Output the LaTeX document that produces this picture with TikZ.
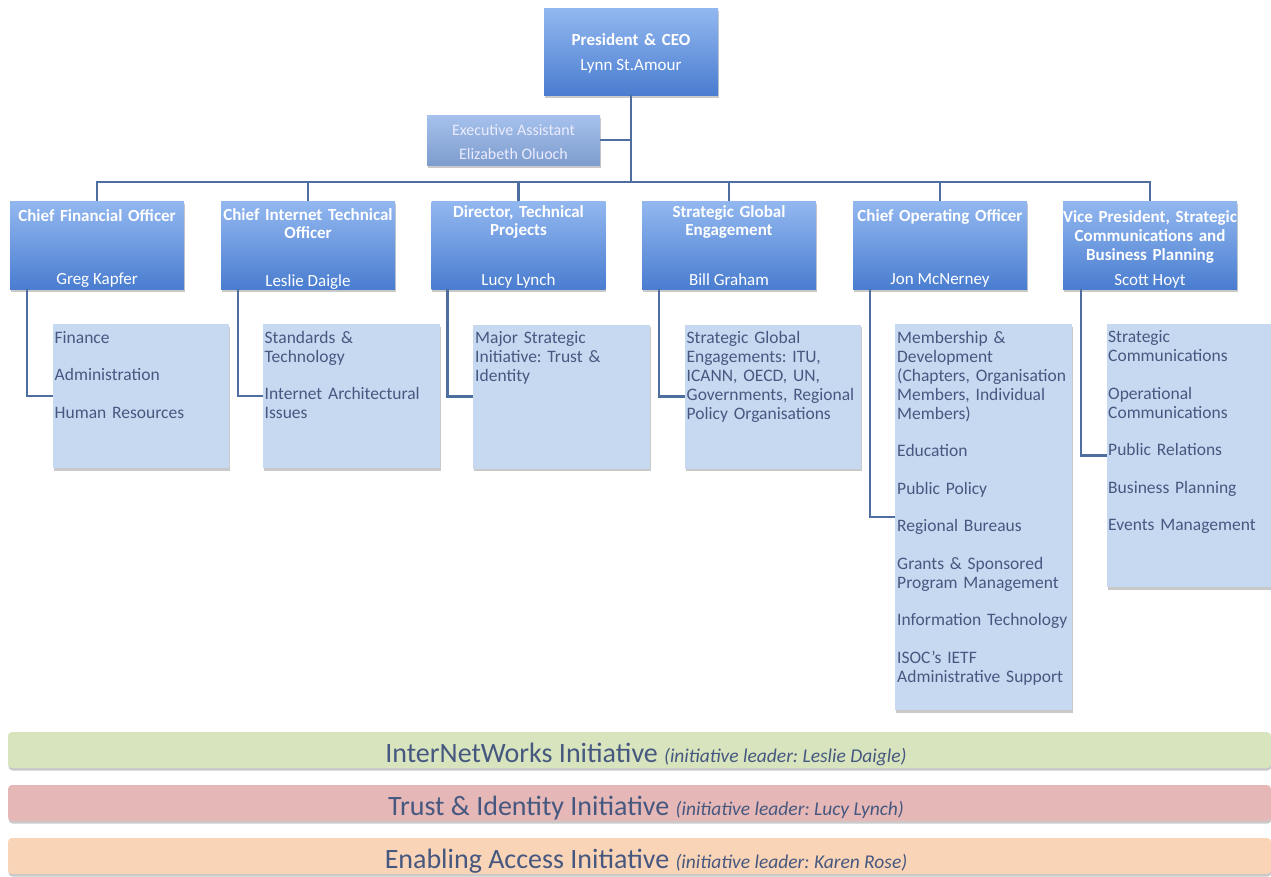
\documentclass[tikz,border=0pt]{standalone}
\usepackage{fontspec}
\setmainfont{Carlito}
\frenchspacing
\usetikzlibrary{shadows}
\definecolor{lineblue}{HTML}{4F6EA0}
\definecolor{offtop}{HTML}{93B8F0}
\definecolor{offbot}{HTML}{4A7DD0}
\definecolor{eatop}{HTML}{A6C1EC}
\definecolor{eabot}{HTML}{7E9DCE}
\definecolor{subfill}{HTML}{C6D9F1}
\definecolor{txtblue}{HTML}{465880}
\definecolor{greenbar}{HTML}{D7E4BD}
\definecolor{redbar}{HTML}{E5B8B7}
\definecolor{orangebar}{HTML}{FAD4B6}
\newcommand\myleadfont{\fontsize{19.5}{20}\selectfont\itshape}
\tikzset{
  conn/.style={draw=lineblue, line width=2.5pt},
  boxshadow/.style={drop shadow={shadow xshift=0.5pt, shadow yshift=-2.5pt, opacity=0.3, fill=black!70}},
  officer/.style={rectangle, draw=none, inner sep=0pt, minimum width=174pt, minimum height=88pt,
    top color=offtop, bottom color=offbot, boxshadow},
  assistant/.style={rectangle, draw=none, inner sep=0pt, minimum width=173pt, minimum height=50pt,
    top color=eatop, bottom color=eabot, boxshadow},
  titletext/.style={text=white, font=\fontsize{17}{18}\selectfont\bfseries, align=center,
    text width=178pt, inner sep=0pt, anchor=base},
  nametext/.style={text=white, font=\fontsize{17}{19}\selectfont, inner sep=0pt, anchor=base},
  eatext/.style={text=white!92!blue, font=\fontsize{16}{18}\selectfont, inner sep=0pt, anchor=base},
  subbox/.style={rectangle, draw=none, inner sep=0pt, fill=subfill, boxshadow},
  subtext/.style={text=txtblue, font=\fontsize{17.5}{19}\selectfont, align=left, text width=178pt,
    inner sep=0pt, anchor=base west},
  bar/.style={rectangle, rounded corners=4pt, draw=none, inner sep=0pt, minimum width=1263pt,
    minimum height=36pt, boxshadow},
  bartext/.style={text=txtblue, inner sep=0pt, anchor=base, font=\fontsize{28}{30}\selectfont}
}
\begin{document}
\begin{tikzpicture}[x=1pt,y=-1pt]
\useasboundingbox (0,0) rectangle (1271,876);

% President and assistant
\node[officer, minimum height=87pt] (pres) at (631,51.5) {};
\node[titletext] (presT) at (631,45) {President \& CEO};
\node[nametext] (presN) at (631,70) {Lynn St.Amour};

\node[assistant] (ea) at (513.5,140) {};
\node[eatext] (eaT) at (513.5,135) {Executive Assistant};
\node[eatext] (eaN) at (513.5,159.5) {Elizabeth Oluoch};

% Officers
\node[officer] (cfo) at (97,245) {};
\node[officer] (cito) at (308,245) {};
\node[officer] (dir) at (518.5,245) {};
\node[officer] (sge) at (729,245) {};
\node[officer] (coo) at (940,245) {};
\node[officer] (vp) at (1150,245) {};

\node[titletext] (cfoT) at (97,221.5) {Chief Financial Officer};
\node[titletext] (citoT) at (308,220) {Chief Internet Technical\\Officer};
\node[titletext] (dirT) at (518.5,217) {Director, Technical\\Projects};
\node[titletext] (sgeT) at (729,217) {Strategic Global\\Engagement};
\node[titletext, font=\fontsize{17}{19}\selectfont\bfseries] (cooT) at (940,221.5) {Chief Operating Officer};
\node[titletext, font=\fontsize{17}{19}\selectfont\bfseries] (vpT) at (1150,222) {Vice President, Strategic\\Communications and\\Business Planning};

\node[nametext] (cfoN) at (97,284.5) {Greg Kapfer};
\node[nametext] (citoN) at (308,286) {Leslie Daigle};
\node[nametext] (dirN) at (518.5,285.5) {Lucy Lynch};
\node[nametext] (sgeN) at (729,285.5) {Bill Graham};
\node[nametext] (cooN) at (940,284.5) {Jon McNerney};
\node[nametext] (vpN) at (1150,285) {Scott Hoyt};

% Sub boxes
\node[subbox, minimum width=176pt, minimum height=144pt] (s1) at (141,396) {};
\node[subbox, minimum width=177pt, minimum height=144pt] (s2) at (351.5,396) {};
\node[subbox, minimum width=177pt, minimum height=144pt] (s3) at (561.5,396.5) {};
\node[subbox, minimum width=176pt, minimum height=144pt] (s4) at (773,396.5) {};
\node[subbox, minimum width=177pt, minimum height=386pt] (s5) at (983.5,517) {};
\node[subbox, minimum width=164pt, minimum height=263pt] (s6) at (1189,455.5) {};

\node[subtext] (s1t) at (54.5,343) {Finance\\[18.5pt]Administration\\[18.5pt]Human Resources};
\node[subtext] (s2t) at (264.5,343) {Standards \&\\Technology\\[18.5pt]Internet Architectural\\Issues};
\node[subtext] (s3t) at (475,343) {Major Strategic\\Initiative: Trust \&\\Identity};
\node[subtext] (s4t) at (686.5,343) {Strategic Global\\Engagements: ITU,\\ICANN, OECD, UN,\\Governments, Regional\\Policy Organisations};
\node[subtext] (s5t) at (897,343) {Membership \&\\Development\\(Chapters, Organisation\\Members, Individual\\Members)\\[18.5pt]Education\\[18.5pt]Public Policy\\[18.5pt]Regional Bureaus\\[18.5pt]Grants \& Sponsored\\Program Management\\[18.5pt]Information Technology\\[18.5pt]ISOC’s IETF\\Administrative Support};
\node[subtext] (s6t) at (1108,342.5) {Strategic\\Communications\\[18.5pt]Operational\\Communications\\[18.5pt]Public Relations\\[18.5pt]Business Planning\\[18.5pt]Events Management};

% Connectors
\coordinate (busC) at (631,182);
\draw[conn] (pres.south) -- (busC);
\draw[conn] (ea.east) -- (ea.east -| pres.south);
\draw[conn] (cfo.north) -- (cfo.north |- busC) -- (vp.north |- busC) -- (vp.north);
\draw[conn] (cito.north) -- (cito.north |- busC);
\draw[conn] (dir.north) -- (dir.north |- busC);
\draw[conn] (sge.north) -- (sge.north |- busC);
\draw[conn] (coo.north) -- (coo.north |- busC);

\draw[conn] ([xshift=17pt]cfo.south west) |- (s1.west);
\draw[conn] ([xshift=17pt]cito.south west) |- (s2.west);
\draw[conn] ([xshift=16pt]dir.south west) |- (s3.west);
\draw[conn] ([xshift=17pt]sge.south west) |- (s4.west);
\draw[conn] ([xshift=17pt]coo.south west) |- (s5.west);
\draw[conn] ([xshift=18pt]vp.south west) |- (s6.west);

% Initiative bars
\node[bar, fill=greenbar] (b1) at (639.5,750) {};
\node[bar, fill=redbar] (b2) at (639.5,803) {};
\node[bar, fill=orangebar] (b3) at (639.5,856) {};
\node[bartext] (b1t) at (646,762) {InterNetWorks Initiative {\myleadfont (initiative leader: Leslie Daigle)}};
\node[bartext] (b2t) at (646,815) {Trust \& Identity Initiative {\myleadfont (initiative leader: Lucy Lynch)}};
\node[bartext] (b3t) at (646,868) {Enabling Access Initiative {\myleadfont (initiative leader: Karen Rose)}};
\end{tikzpicture}
\end{document}
